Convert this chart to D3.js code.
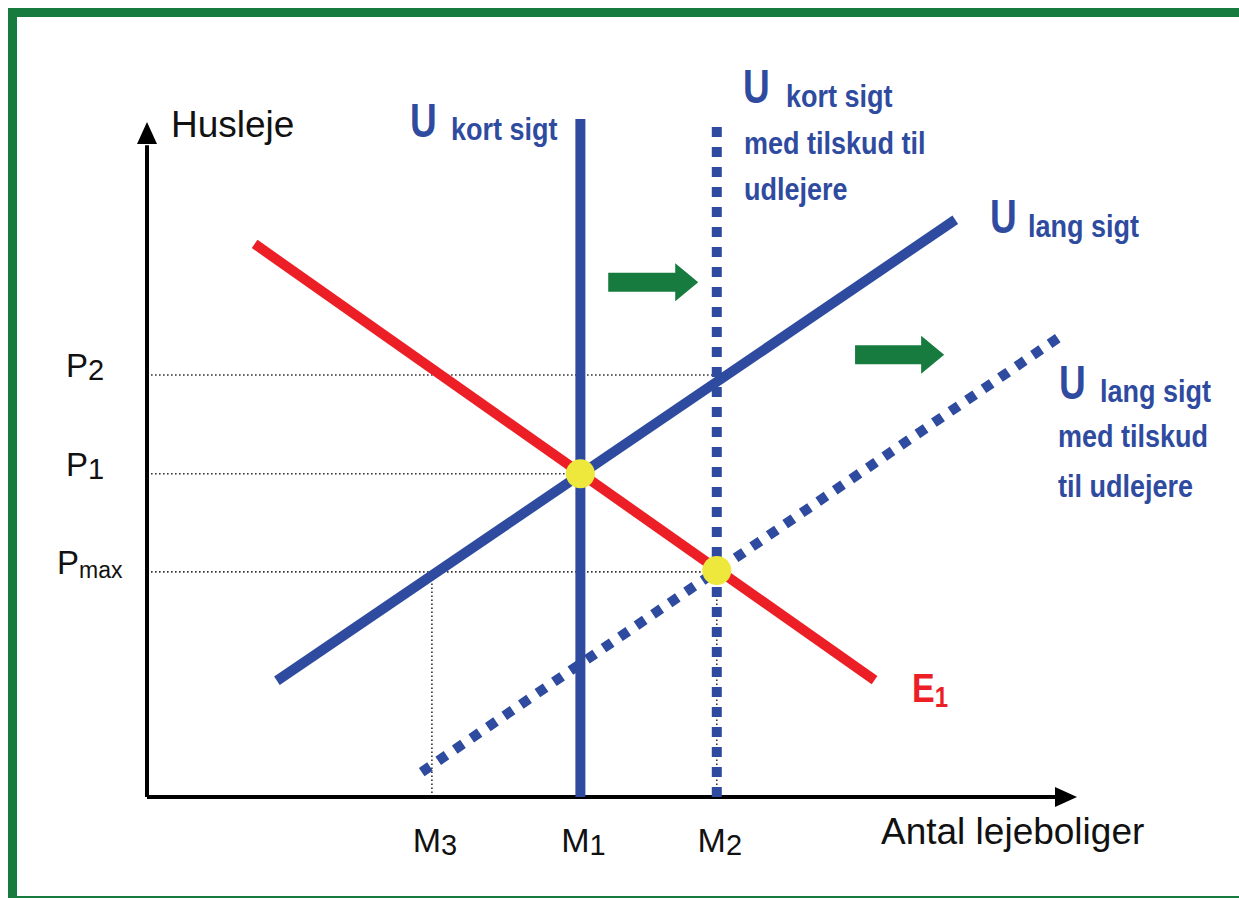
<!DOCTYPE html>
<html>
<head>
<meta charset="utf-8">
<script src="https://cdn.jsdelivr.net/npm/d3@7"></script>
<style>
  body { margin: 0; background: #fff; }
  svg { display: block; }
  text { font-family: Arial, "Liberation Sans", sans-serif; }
</style>
</head>
<body>
<svg id="chart" width="1239" height="898"></svg>
<script>
// Quantity ticks (M) and price ticks (P), in chart units.
const qSubs = ['3', '1', '2'];
const qValues = [3.07, 4.67, 6.14];
const pSubs = ['2', '1', 'max'];
const pValues = [6.28, 4.81, 3.35];

// Curves as [x, y] end points.
const demand = [[1.16, 8.23], [7.84, 1.74]];
const supplyLong = [[1.40, 1.73], [8.71, 8.59]];
const supplyLongSubsidy = [[2.96, 0.37], [9.87, 6.88]];
const supplyShort = [[4.67, 0], [4.67, 10.09]];
const supplyShortSubsidy = [[6.14, 0], [6.14, 10.03]];
const equilibria = [[4.67, 4.81], [6.14, 3.37]];
const shifts = [[[4.97, 7.66], [5.94, 7.66]], [[7.63, 6.58], [8.59, 6.58]]];

// Dotted guides: [quantity index, price index].
const hGuides = [[2, 0], [1, 1], [2, 2]];
const vGuides = [[0, 2], [1, 1], [2, 2]];

const blue = '#2f4b9f';
const red = '#ec1f27';
const green = '#177b3f';
const yellow = '#eee83c';

const svg = d3.select('#chart');

svg.append('rect')
  .attr('width', 1239).attr('height', 898).attr('fill', '#fff');

// Green frame, runs off the right and bottom edges.
svg.append('rect')
  .attr('x', 12.5).attr('y', 12.5)
  .attr('width', 1300).attr('height', 888)
  .attr('fill', 'none')
  .attr('stroke', green)
  .attr('stroke-width', 9);

const x = d3.scaleLinear().domain([0, 10]).range([147, 1075]);
const y = d3.scaleLinear().domain([0, 10]).range([797, 125]);

const line = d3.line().x(d => x(d[0])).y(d => y(d[1]));

// Guides.
const guides = svg.append('g')
  .attr('stroke', '#333')
  .attr('stroke-width', 1.6)
  .attr('stroke-dasharray', '1.6,2.4')
  .attr('fill', 'none');

guides.selectAll('.h')
  .data(hGuides)
  .join('path')
  .attr('d', d => line([[0, pValues[d[1]]], [qValues[d[0]], pValues[d[1]]]]));

guides.selectAll('.v')
  .data(vGuides)
  .join('path')
  .attr('d', d => line([[qValues[d[0]], 0], [qValues[d[0]], pValues[d[1]]]]));

// Axes with arrow heads.
const axes = svg.append('g');
axes.append('path')
  .attr('d', line([[0, 0], [0, 9.7]]))
  .attr('stroke', '#000').attr('stroke-width', 4).attr('fill', 'none');
axes.append('path')
  .attr('d', line([[0, 0], [9.8, 0]]))
  .attr('stroke', '#000').attr('stroke-width', 4).attr('fill', 'none');

const ax = x(0), ay = y(0), yTip = y(10) - 3, xTip = x(10) + 2;
axes.append('path')
  .attr('d', `M${ax},${yTip} L${ax - 10},${yTip + 22} L${ax + 10},${yTip + 22} Z`)
  .attr('fill', '#000');
axes.append('path')
  .attr('d', `M${xTip},${ay} L${xTip - 22},${ay - 10} L${xTip - 22},${ay + 10} Z`)
  .attr('fill', '#000');

// Curves.
function drawCurve(data, color, dashed) {
  svg.append('path')
    .attr('d', line(data))
    .attr('fill', 'none')
    .attr('stroke', color)
    .attr('stroke-width', 10)
    .attr('stroke-dasharray', dashed ? '10,10' : null);
}

drawCurve(supplyLong, blue, false);
drawCurve(supplyLongSubsidy, blue, true);
drawCurve(demand, red, false);
drawCurve(supplyShort, blue, false);
drawCurve(supplyShortSubsidy, blue, true);

// Equilibrium points.
svg.selectAll('.eq')
  .data(equilibria)
  .join('circle')
  .attr('cx', d => x(d[0]))
  .attr('cy', d => y(d[1]))
  .attr('r', 14.5)
  .attr('fill', yellow);

// Shift arrows.
svg.selectAll('.shift')
  .data(shifts)
  .join('path')
  .attr('fill', green)
  .attr('d', d => {
    const x0 = x(d[0][0]), x1 = x(d[1][0]), py = y(d[0][1]);
    const hx = x1 - 23;
    return `M${x0},${py - 9.5} L${hx},${py - 9.5} L${hx},${py - 19} L${x1},${py}` +
      ` L${hx},${py + 19} L${hx},${py + 9.5} L${x0},${py + 9.5} Z`;
  });

// Tick labels.
const qText = svg.selectAll('.qlab')
  .data(qValues)
  .join('text')
  .attr('x', d => x(d) + 3)
  .attr('y', 852)
  .attr('text-anchor', 'middle')
  .attr('fill', '#111');
qText.append('tspan').attr('font-size', 34).text('M');
qText.append('tspan').attr('font-size', 29).attr('dy', 3).text((d, i) => qSubs[i]);

const pText = svg.selectAll('.plab')
  .data(pValues)
  .join('text')
  .attr('x', (d, i) => (i === 2 ? 57 : 66))
  .attr('y', d => y(d) + 2)
  .attr('fill', '#111');
pText.append('tspan').attr('font-size', 33).text('P');
pText.append('tspan')
  .attr('font-size', (d, i) => (i === 2 ? 23 : 29))
  .attr('dy', (d, i) => (i === 2 ? 4 : 3))
  .text((d, i) => pSubs[i]);

// Axis titles.
svg.append('text')
  .attr('x', 171).attr('y', 137)
  .attr('font-size', 37)
  .attr('fill', '#111')
  .text('Husleje');

svg.append('text')
  .attr('x', 881).attr('y', 844)
  .attr('font-size', 37)
  .attr('fill', '#111')
  .text('Antal lejeboliger');

// Curve labels.
const labels = [
  { x: 410, y: 137, text: 'U', big: true },
  { x: 451, y: 140, text: 'kort sigt' },
  { x: 743, y: 103, text: 'U', big: true },
  { x: 786, y: 107, text: 'kort sigt' },
  { x: 744, y: 154, text: 'med tilskud til' },
  { x: 744, y: 200, text: 'udlejere' },
  { x: 990, y: 233, text: 'U', big: true },
  { x: 1028, y: 237, text: 'lang sigt' },
  { x: 1059, y: 399, text: 'U', big: true },
  { x: 1100, y: 402, text: 'lang sigt' },
  { x: 1058, y: 447, text: 'med tilskud' },
  { x: 1058, y: 497, text: 'til udlejere' }
];

svg.selectAll('.clab')
  .data(labels)
  .join('text')
  .attr('transform', d => `translate(${d.x},${d.y}) scale(1,${d.big ? 1.28 : 1.13})`)
  .attr('font-size', d => (d.big ? 37 : 27))
  .attr('font-weight', d => (d.big ? 600 : 'bold'))
  .attr('fill', blue)
  .text(d => d.text);

const e1 = svg.append('text')
  .attr('transform', 'translate(912,702) scale(1,1.2)')
  .attr('fill', red)
  .attr('font-weight', 'bold');
e1.append('tspan').attr('font-size', 34).text('E');
e1.append('tspan').attr('font-size', 24).attr('dy', 4).text('1');
</script>
</body>
</html>
